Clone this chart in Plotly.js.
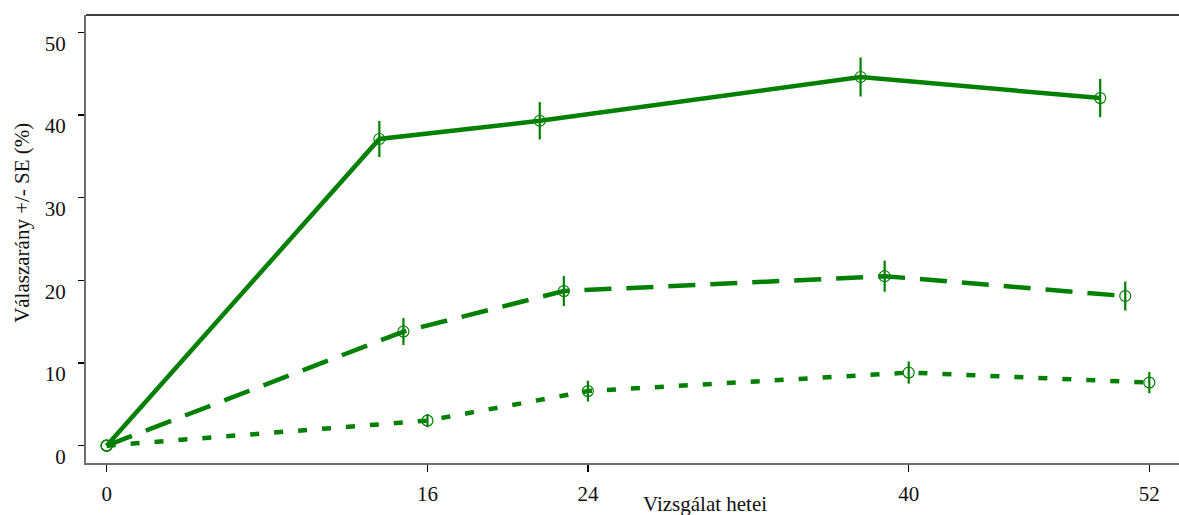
<!DOCTYPE html>
<html>
<head>
<meta charset="utf-8">
<script src="https://cdn.plot.ly/plotly-3.0.1.min.js"></script>
<style>html,body{margin:0;padding:0;background:#fff;}#chart{width:1179px;height:515px;}</style>
</head>
<body>
<div id="chart"></div>
<script>
// Week ticks
var tickWeeks = [0, 16, 24, 40, 52];
var tickLabels = ['0', '16', '24', '40', '52'];
var yTicks = [0, 10, 20, 30, 40, 50];

// Series 1 (solid): plotted x positions (weeks, dodged), values and SE
var solidX = [0, 13.6, 21.6, 37.6, 49.55];
var solidY = [0, 37.1, 39.3, 44.6, 42.05];
var solidSE = [0, 2.18, 2.26, 2.36, 2.32];

// Series 2 (dashed)
var dashX = [0, 14.8, 22.8, 38.8, 50.8];
var dashY = [0, 13.8, 18.7, 20.5, 18.1];
var dashSE = [0, 1.63, 1.82, 1.88, 1.76];

// Series 3 (dotted)
var dotX = [0, 16, 24, 40, 52];
var dotY = [0, 3.03, 6.6, 8.84, 7.63];
var dotSE = [0, 0.8, 1.25, 1.35, 1.29];

var green = '#008000';

function series(x, y, se, dash) {
  return {
    x: x, y: y, type: 'scatter', mode: 'lines+markers',
    line: {color: green, width: 4.5, dash: dash},
    marker: {symbol: 'circle-open', size: 11, color: green, line: {width: 1.2, color: green}},
    error_y: {type: 'data', array: se, visible: true, color: green, thickness: 2.2, width: 0},
    showlegend: false, hoverinfo: 'x+y'
  };
}

var data = [
  series(dotX, dotY, dotSE, '9px,15px'),
  series(dashX, dashY, dashSE, '27px,15px'),
  series(solidX, solidY, solidSE, 'solid')
];

var font = {family: 'Liberation Serif, Times New Roman, serif', size: 21, color: '#111'};

var layout = {
  width: 1179, height: 515,
  margin: {l: 86, r: 0, t: 15, b: 52},
  paper_bgcolor: '#fff', plot_bgcolor: '#fff',
  font: font,
  xaxis: {
    range: [-1.03, 53.48],
    tickvals: tickWeeks, ticktext: tickLabels,
    ticks: 'outside', ticklen: 7, tickwidth: 1.3, tickcolor: '#000',
    showgrid: false, zeroline: false,
    showline: true, linecolor: '#6e6e6e', linewidth: 2,
    ticklabelstandoff: 4,
    tickfont: font
  },
  yaxis: {
    range: [-2.1, 52.1],
    tickvals: yTicks,
    ticks: 'outside', ticklen: 6, tickwidth: 1.3, tickcolor: '#000',
    showgrid: false, zeroline: false,
    showline: true, linecolor: '#6e6e6e', linewidth: 2,
    ticklabelstandoff: 8,
    ticklabelshift: 11,
    tickfont: font
  },
  shapes: [
    {type: 'line', xref: 'paper', yref: 'paper', x0: 0, x1: 1, y0: 1, y1: 1,
     line: {color: '#000', width: 1.5}}
  ],
  annotations: [
    {text: 'Vizsgálat hetei', xref: 'paper', yref: 'paper', x: 0.566, y: 0,
     xanchor: 'center', yanchor: 'middle', yshift: -41, showarrow: false, font: font},
    {text: 'Válaszarány +/- SE (%)', xref: 'paper', yref: 'paper', x: 0, y: 0.536,
     xanchor: 'center', yanchor: 'middle', xshift: -64, textangle: -90, showarrow: false, font: font}
  ]
};

Plotly.newPlot('chart', data, layout, {displayModeBar: false, staticPlot: true});
</script>
</body>
</html>
